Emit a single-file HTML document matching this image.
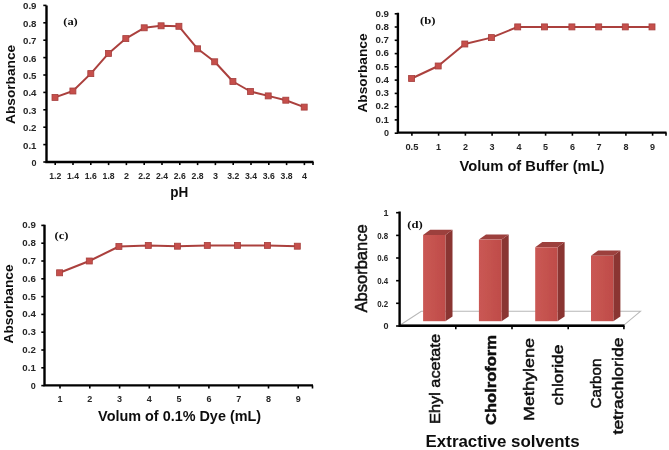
<!DOCTYPE html><html><head><meta charset="utf-8"><title>Figure</title><style>
html,body{margin:0;padding:0;background:#fff;}svg{display:block;}
text{font-family:"Liberation Sans",sans-serif;fill:#111;}
.t{font-size:9px;font-weight:bold;fill:#262626;}
.ax{font-weight:bold;fill:#111;}
.s{font-family:"Liberation Serif",serif;font-weight:bold;font-size:11px;fill:#111;}
.c{stroke:#111;stroke-width:0.5px;}
</style></head><body>
<svg width="669" height="450" viewBox="0 0 669 450">
<defs><filter id="b" x="-5%" y="-5%" width="110%" height="110%"><feGaussianBlur stdDeviation="0.55"/></filter><linearGradient id="g" x1="0" x2="1" y1="0" y2="0"><stop offset="0" stop-color="#ca5854"/><stop offset="1" stop-color="#bf4c49"/></linearGradient></defs>
<rect width="669" height="450" fill="#ffffff"/>
<g filter="url(#b)">
<path d="M46.5 5.4V162H313.5" fill="none" stroke="#000" stroke-width="2.4" stroke-linejoin="miter"/>
<path d="M43.3 162.0H46.5" stroke="#000" stroke-width="1.6"/>
<text x="36.5" y="165.9" class="t" text-anchor="end">0</text>
<path d="M43.3 144.6H46.5" stroke="#000" stroke-width="1.6"/>
<text x="36.5" y="148.5" class="t" text-anchor="end" textLength="13.5" lengthAdjust="spacingAndGlyphs">0.1</text>
<path d="M43.3 127.2H46.5" stroke="#000" stroke-width="1.6"/>
<text x="36.5" y="131.1" class="t" text-anchor="end" textLength="13.5" lengthAdjust="spacingAndGlyphs">0.2</text>
<path d="M43.3 109.8H46.5" stroke="#000" stroke-width="1.6"/>
<text x="36.5" y="113.7" class="t" text-anchor="end" textLength="13.5" lengthAdjust="spacingAndGlyphs">0.3</text>
<path d="M43.3 92.4H46.5" stroke="#000" stroke-width="1.6"/>
<text x="36.5" y="96.3" class="t" text-anchor="end" textLength="13.5" lengthAdjust="spacingAndGlyphs">0.4</text>
<path d="M43.3 75.0H46.5" stroke="#000" stroke-width="1.6"/>
<text x="36.5" y="78.9" class="t" text-anchor="end" textLength="13.5" lengthAdjust="spacingAndGlyphs">0.5</text>
<path d="M43.3 57.6H46.5" stroke="#000" stroke-width="1.6"/>
<text x="36.5" y="61.5" class="t" text-anchor="end" textLength="13.5" lengthAdjust="spacingAndGlyphs">0.6</text>
<path d="M43.3 40.2H46.5" stroke="#000" stroke-width="1.6"/>
<text x="36.5" y="44.1" class="t" text-anchor="end" textLength="13.5" lengthAdjust="spacingAndGlyphs">0.7</text>
<path d="M43.3 22.8H46.5" stroke="#000" stroke-width="1.6"/>
<text x="36.5" y="26.7" class="t" text-anchor="end" textLength="13.5" lengthAdjust="spacingAndGlyphs">0.8</text>
<path d="M43.3 5.4H46.5" stroke="#000" stroke-width="1.6"/>
<text x="36.5" y="9.3" class="t" text-anchor="end" textLength="13.5" lengthAdjust="spacingAndGlyphs">0.9</text>
<path d="M55.2 162V165.1" stroke="#000" stroke-width="1.6"/>
<text x="55.2" y="178.8" class="t" text-anchor="middle" textLength="12" lengthAdjust="spacingAndGlyphs">1.2</text>
<path d="M73.0 162V165.1" stroke="#000" stroke-width="1.6"/>
<text x="73.0" y="178.8" class="t" text-anchor="middle" textLength="12" lengthAdjust="spacingAndGlyphs">1.4</text>
<path d="M90.8 162V165.1" stroke="#000" stroke-width="1.6"/>
<text x="90.8" y="178.8" class="t" text-anchor="middle" textLength="12" lengthAdjust="spacingAndGlyphs">1.6</text>
<path d="M108.6 162V165.1" stroke="#000" stroke-width="1.6"/>
<text x="108.6" y="178.8" class="t" text-anchor="middle" textLength="12" lengthAdjust="spacingAndGlyphs">1.8</text>
<path d="M126.4 162V165.1" stroke="#000" stroke-width="1.6"/>
<text x="126.4" y="178.8" class="t" text-anchor="middle">2</text>
<path d="M144.2 162V165.1" stroke="#000" stroke-width="1.6"/>
<text x="144.2" y="178.8" class="t" text-anchor="middle" textLength="12" lengthAdjust="spacingAndGlyphs">2.2</text>
<path d="M162.0 162V165.1" stroke="#000" stroke-width="1.6"/>
<text x="162.0" y="178.8" class="t" text-anchor="middle" textLength="12" lengthAdjust="spacingAndGlyphs">2.4</text>
<path d="M179.8 162V165.1" stroke="#000" stroke-width="1.6"/>
<text x="179.8" y="178.8" class="t" text-anchor="middle" textLength="12" lengthAdjust="spacingAndGlyphs">2.6</text>
<path d="M197.6 162V165.1" stroke="#000" stroke-width="1.6"/>
<text x="197.6" y="178.8" class="t" text-anchor="middle" textLength="12" lengthAdjust="spacingAndGlyphs">2.8</text>
<path d="M215.4 162V165.1" stroke="#000" stroke-width="1.6"/>
<text x="215.4" y="178.8" class="t" text-anchor="middle">3</text>
<path d="M233.2 162V165.1" stroke="#000" stroke-width="1.6"/>
<text x="233.2" y="178.8" class="t" text-anchor="middle" textLength="12" lengthAdjust="spacingAndGlyphs">3.2</text>
<path d="M251.0 162V165.1" stroke="#000" stroke-width="1.6"/>
<text x="251.0" y="178.8" class="t" text-anchor="middle" textLength="12" lengthAdjust="spacingAndGlyphs">3.4</text>
<path d="M268.8 162V165.1" stroke="#000" stroke-width="1.6"/>
<text x="268.8" y="178.8" class="t" text-anchor="middle" textLength="12" lengthAdjust="spacingAndGlyphs">3.6</text>
<path d="M286.6 162V165.1" stroke="#000" stroke-width="1.6"/>
<text x="286.6" y="178.8" class="t" text-anchor="middle" textLength="12" lengthAdjust="spacingAndGlyphs">3.8</text>
<path d="M304.4 162V165.1" stroke="#000" stroke-width="1.6"/>
<text x="304.4" y="178.8" class="t" text-anchor="middle">4</text>
<path d="M313.0 162V165.1" stroke="#000" stroke-width="1.6"/>
<path d="M55.0 97.4 L72.9 91.0 L90.8 73.6 L108.5 53.4 L125.8 38.6 L144.2 27.8 L161.1 25.8 L178.9 26.3 L197.6 48.8 L214.7 61.8 L232.9 81.5 L250.5 91.5 L268.2 95.9 L285.8 100.2 L304.2 107.1" fill="none" stroke="#ab413e" stroke-width="2.0" stroke-linejoin="round"/>
<rect x="52.0" y="94.4" width="6" height="6" fill="#c64f4c" stroke="#a53f3c" stroke-width="0.8"/>
<rect x="69.9" y="88.0" width="6" height="6" fill="#c64f4c" stroke="#a53f3c" stroke-width="0.8"/>
<rect x="87.8" y="70.6" width="6" height="6" fill="#c64f4c" stroke="#a53f3c" stroke-width="0.8"/>
<rect x="105.5" y="50.4" width="6" height="6" fill="#c64f4c" stroke="#a53f3c" stroke-width="0.8"/>
<rect x="122.8" y="35.6" width="6" height="6" fill="#c64f4c" stroke="#a53f3c" stroke-width="0.8"/>
<rect x="141.2" y="24.8" width="6" height="6" fill="#c64f4c" stroke="#a53f3c" stroke-width="0.8"/>
<rect x="158.1" y="22.8" width="6" height="6" fill="#c64f4c" stroke="#a53f3c" stroke-width="0.8"/>
<rect x="175.9" y="23.3" width="6" height="6" fill="#c64f4c" stroke="#a53f3c" stroke-width="0.8"/>
<rect x="194.6" y="45.8" width="6" height="6" fill="#c64f4c" stroke="#a53f3c" stroke-width="0.8"/>
<rect x="211.7" y="58.8" width="6" height="6" fill="#c64f4c" stroke="#a53f3c" stroke-width="0.8"/>
<rect x="229.9" y="78.5" width="6" height="6" fill="#c64f4c" stroke="#a53f3c" stroke-width="0.8"/>
<rect x="247.5" y="88.5" width="6" height="6" fill="#c64f4c" stroke="#a53f3c" stroke-width="0.8"/>
<rect x="265.2" y="92.9" width="6" height="6" fill="#c64f4c" stroke="#a53f3c" stroke-width="0.8"/>
<rect x="282.8" y="97.2" width="6" height="6" fill="#c64f4c" stroke="#a53f3c" stroke-width="0.8"/>
<rect x="301.2" y="104.1" width="6" height="6" fill="#c64f4c" stroke="#a53f3c" stroke-width="0.8"/>
<text x="70.5" y="24.5" class="s" text-anchor="middle" textLength="14.5" lengthAdjust="spacingAndGlyphs">(a)</text>
<text x="14.6" y="84.4" class="ax" text-anchor="middle" style="font-size:13.5px;" textLength="79" lengthAdjust="spacingAndGlyphs" transform="rotate(-90 14.6 84.4)">Absorbance</text>
<text x="179.2" y="197" class="ax" text-anchor="middle" style="font-size:14px;" textLength="18" lengthAdjust="spacingAndGlyphs">pH</text>
<path d="M397.9 12.8V132.6H666.5" fill="none" stroke="#000" stroke-width="2.4" stroke-linejoin="miter"/>
<path d="M394.7 133.2H397.9" stroke="#000" stroke-width="1.6"/>
<text x="389.0" y="135.9" class="t" text-anchor="end">0</text>
<path d="M394.7 119.9H397.9" stroke="#000" stroke-width="1.6"/>
<text x="389.0" y="122.6" class="t" text-anchor="end" textLength="13.5" lengthAdjust="spacingAndGlyphs">0.1</text>
<path d="M394.7 106.7H397.9" stroke="#000" stroke-width="1.6"/>
<text x="389.0" y="109.4" class="t" text-anchor="end" textLength="13.5" lengthAdjust="spacingAndGlyphs">0.2</text>
<path d="M394.7 93.4H397.9" stroke="#000" stroke-width="1.6"/>
<text x="389.0" y="96.1" class="t" text-anchor="end" textLength="13.5" lengthAdjust="spacingAndGlyphs">0.3</text>
<path d="M394.7 80.1H397.9" stroke="#000" stroke-width="1.6"/>
<text x="389.0" y="82.8" class="t" text-anchor="end" textLength="13.5" lengthAdjust="spacingAndGlyphs">0.4</text>
<path d="M394.7 66.8H397.9" stroke="#000" stroke-width="1.6"/>
<text x="389.0" y="69.5" class="t" text-anchor="end" textLength="13.5" lengthAdjust="spacingAndGlyphs">0.5</text>
<path d="M394.7 53.6H397.9" stroke="#000" stroke-width="1.6"/>
<text x="389.0" y="56.3" class="t" text-anchor="end" textLength="13.5" lengthAdjust="spacingAndGlyphs">0.6</text>
<path d="M394.7 40.3H397.9" stroke="#000" stroke-width="1.6"/>
<text x="389.0" y="43.0" class="t" text-anchor="end" textLength="13.5" lengthAdjust="spacingAndGlyphs">0.7</text>
<path d="M394.7 27.0H397.9" stroke="#000" stroke-width="1.6"/>
<text x="389.0" y="29.7" class="t" text-anchor="end" textLength="13.5" lengthAdjust="spacingAndGlyphs">0.8</text>
<path d="M394.7 13.8H397.9" stroke="#000" stroke-width="1.6"/>
<text x="389.0" y="16.5" class="t" text-anchor="end" textLength="13.5" lengthAdjust="spacingAndGlyphs">0.9</text>
<path d="M411.9 132.6V135.7" stroke="#000" stroke-width="1.6"/>
<text x="411.9" y="149.6" class="t" text-anchor="middle" textLength="13" lengthAdjust="spacingAndGlyphs">0.5</text>
<path d="M438.6 132.6V135.7" stroke="#000" stroke-width="1.6"/>
<text x="438.6" y="149.6" class="t" text-anchor="middle">1</text>
<path d="M465.4 132.6V135.7" stroke="#000" stroke-width="1.6"/>
<text x="465.4" y="149.6" class="t" text-anchor="middle">2</text>
<path d="M492.1 132.6V135.7" stroke="#000" stroke-width="1.6"/>
<text x="492.1" y="149.6" class="t" text-anchor="middle">3</text>
<path d="M518.9 132.6V135.7" stroke="#000" stroke-width="1.6"/>
<text x="518.9" y="149.6" class="t" text-anchor="middle">4</text>
<path d="M545.6 132.6V135.7" stroke="#000" stroke-width="1.6"/>
<text x="545.6" y="149.6" class="t" text-anchor="middle">5</text>
<path d="M572.4 132.6V135.7" stroke="#000" stroke-width="1.6"/>
<text x="572.4" y="149.6" class="t" text-anchor="middle">6</text>
<path d="M599.1 132.6V135.7" stroke="#000" stroke-width="1.6"/>
<text x="599.1" y="149.6" class="t" text-anchor="middle">7</text>
<path d="M625.9 132.6V135.7" stroke="#000" stroke-width="1.6"/>
<text x="625.9" y="149.6" class="t" text-anchor="middle">8</text>
<path d="M652.6 132.6V135.7" stroke="#000" stroke-width="1.6"/>
<text x="652.6" y="149.6" class="t" text-anchor="middle">9</text>
<path d="M666.0 132.6V135.7" stroke="#000" stroke-width="1.6"/>
<path d="M411.6 78.5 L438.2 66 L464.8 44 L491.4 37.6 L517.7 26.9 L544.5 26.9 L571.9 26.9 L598.7 26.9 L625.3 26.9 L652 26.9" fill="none" stroke="#ab413e" stroke-width="2.0" stroke-linejoin="round"/>
<rect x="408.6" y="75.5" width="6" height="6" fill="#c64f4c" stroke="#a53f3c" stroke-width="0.8"/>
<rect x="435.2" y="63.0" width="6" height="6" fill="#c64f4c" stroke="#a53f3c" stroke-width="0.8"/>
<rect x="461.8" y="41.0" width="6" height="6" fill="#c64f4c" stroke="#a53f3c" stroke-width="0.8"/>
<rect x="488.4" y="34.6" width="6" height="6" fill="#c64f4c" stroke="#a53f3c" stroke-width="0.8"/>
<rect x="514.7" y="23.9" width="6" height="6" fill="#c64f4c" stroke="#a53f3c" stroke-width="0.8"/>
<rect x="541.5" y="23.9" width="6" height="6" fill="#c64f4c" stroke="#a53f3c" stroke-width="0.8"/>
<rect x="568.9" y="23.9" width="6" height="6" fill="#c64f4c" stroke="#a53f3c" stroke-width="0.8"/>
<rect x="595.7" y="23.9" width="6" height="6" fill="#c64f4c" stroke="#a53f3c" stroke-width="0.8"/>
<rect x="622.3" y="23.9" width="6" height="6" fill="#c64f4c" stroke="#a53f3c" stroke-width="0.8"/>
<rect x="649.0" y="23.9" width="6" height="6" fill="#c64f4c" stroke="#a53f3c" stroke-width="0.8"/>
<text x="427.8" y="23.5" class="s" text-anchor="middle" textLength="15.5" lengthAdjust="spacingAndGlyphs">(b)</text>
<text x="366.6" y="73" class="ax" text-anchor="middle" style="font-size:13.5px;" textLength="79" lengthAdjust="spacingAndGlyphs" transform="rotate(-90 366.6 73)">Absorbance</text>
<text x="532" y="171" class="ax" text-anchor="middle" style="font-size:14px;" textLength="145" lengthAdjust="spacingAndGlyphs">Volum of Buffer (mL)</text>
<path d="M44.5 224.7V385.4H313" fill="none" stroke="#000" stroke-width="2.4" stroke-linejoin="miter"/>
<path d="M41.3 385.6H44.5" stroke="#000" stroke-width="1.6"/>
<text x="35.8" y="388.6" class="t" text-anchor="end">0</text>
<path d="M41.3 367.8H44.5" stroke="#000" stroke-width="1.6"/>
<text x="35.8" y="370.8" class="t" text-anchor="end" textLength="13.5" lengthAdjust="spacingAndGlyphs">0.1</text>
<path d="M41.3 350.0H44.5" stroke="#000" stroke-width="1.6"/>
<text x="35.8" y="353.0" class="t" text-anchor="end" textLength="13.5" lengthAdjust="spacingAndGlyphs">0.2</text>
<path d="M41.3 332.2H44.5" stroke="#000" stroke-width="1.6"/>
<text x="35.8" y="335.2" class="t" text-anchor="end" textLength="13.5" lengthAdjust="spacingAndGlyphs">0.3</text>
<path d="M41.3 314.4H44.5" stroke="#000" stroke-width="1.6"/>
<text x="35.8" y="317.4" class="t" text-anchor="end" textLength="13.5" lengthAdjust="spacingAndGlyphs">0.4</text>
<path d="M41.3 296.6H44.5" stroke="#000" stroke-width="1.6"/>
<text x="35.8" y="299.6" class="t" text-anchor="end" textLength="13.5" lengthAdjust="spacingAndGlyphs">0.5</text>
<path d="M41.3 278.8H44.5" stroke="#000" stroke-width="1.6"/>
<text x="35.8" y="281.8" class="t" text-anchor="end" textLength="13.5" lengthAdjust="spacingAndGlyphs">0.6</text>
<path d="M41.3 261.0H44.5" stroke="#000" stroke-width="1.6"/>
<text x="35.8" y="264.0" class="t" text-anchor="end" textLength="13.5" lengthAdjust="spacingAndGlyphs">0.7</text>
<path d="M41.3 243.2H44.5" stroke="#000" stroke-width="1.6"/>
<text x="35.8" y="246.2" class="t" text-anchor="end" textLength="13.5" lengthAdjust="spacingAndGlyphs">0.8</text>
<path d="M41.3 225.4H44.5" stroke="#000" stroke-width="1.6"/>
<text x="35.8" y="228.4" class="t" text-anchor="end" textLength="13.5" lengthAdjust="spacingAndGlyphs">0.9</text>
<path d="M60.0 385.4V388.5" stroke="#000" stroke-width="1.6"/>
<text x="60.0" y="402.3" class="t" text-anchor="middle">1</text>
<path d="M89.8 385.4V388.5" stroke="#000" stroke-width="1.6"/>
<text x="89.8" y="402.3" class="t" text-anchor="middle">2</text>
<path d="M119.6 385.4V388.5" stroke="#000" stroke-width="1.6"/>
<text x="119.6" y="402.3" class="t" text-anchor="middle">3</text>
<path d="M149.3 385.4V388.5" stroke="#000" stroke-width="1.6"/>
<text x="149.3" y="402.3" class="t" text-anchor="middle">4</text>
<path d="M179.1 385.4V388.5" stroke="#000" stroke-width="1.6"/>
<text x="179.1" y="402.3" class="t" text-anchor="middle">5</text>
<path d="M208.9 385.4V388.5" stroke="#000" stroke-width="1.6"/>
<text x="208.9" y="402.3" class="t" text-anchor="middle">6</text>
<path d="M238.7 385.4V388.5" stroke="#000" stroke-width="1.6"/>
<text x="238.7" y="402.3" class="t" text-anchor="middle">7</text>
<path d="M268.5 385.4V388.5" stroke="#000" stroke-width="1.6"/>
<text x="268.5" y="402.3" class="t" text-anchor="middle">8</text>
<path d="M298.2 385.4V388.5" stroke="#000" stroke-width="1.6"/>
<text x="298.2" y="402.3" class="t" text-anchor="middle">9</text>
<path d="M312.5 385.4V388.5" stroke="#000" stroke-width="1.6"/>
<path d="M59.6 272.8 L89.3 261 L118.9 246.5 L148.3 245.4 L177.4 246.2 L207.3 245.4 L237.5 245.4 L267.4 245.4 L297.3 246.2" fill="none" stroke="#ab413e" stroke-width="2.0" stroke-linejoin="round"/>
<rect x="56.6" y="269.8" width="6" height="6" fill="#c64f4c" stroke="#a53f3c" stroke-width="0.8"/>
<rect x="86.3" y="258.0" width="6" height="6" fill="#c64f4c" stroke="#a53f3c" stroke-width="0.8"/>
<rect x="115.9" y="243.5" width="6" height="6" fill="#c64f4c" stroke="#a53f3c" stroke-width="0.8"/>
<rect x="145.3" y="242.4" width="6" height="6" fill="#c64f4c" stroke="#a53f3c" stroke-width="0.8"/>
<rect x="174.4" y="243.2" width="6" height="6" fill="#c64f4c" stroke="#a53f3c" stroke-width="0.8"/>
<rect x="204.3" y="242.4" width="6" height="6" fill="#c64f4c" stroke="#a53f3c" stroke-width="0.8"/>
<rect x="234.5" y="242.4" width="6" height="6" fill="#c64f4c" stroke="#a53f3c" stroke-width="0.8"/>
<rect x="264.4" y="242.4" width="6" height="6" fill="#c64f4c" stroke="#a53f3c" stroke-width="0.8"/>
<rect x="294.3" y="243.2" width="6" height="6" fill="#c64f4c" stroke="#a53f3c" stroke-width="0.8"/>
<text x="61.5" y="239" class="s" text-anchor="middle" textLength="14" lengthAdjust="spacingAndGlyphs">(c)</text>
<text x="12.8" y="304" class="ax" text-anchor="middle" style="font-size:13.5px;" textLength="79" lengthAdjust="spacingAndGlyphs" transform="rotate(-90 12.8 304)">Absorbance</text>
<text x="179.6" y="420.6" class="ax" text-anchor="middle" style="font-size:14px;" textLength="163" lengthAdjust="spacingAndGlyphs">Volum of 0.1% Dye (mL)</text>
<path d="M400.6 324.8L421.3 311.3H640.4L624.3 324.8Z" fill="#fff" stroke="#b8b8b8" stroke-width="1.1"/>
<path d="M445.4 235.0L452.5 229.8V316.6L445.4 321.2Z" fill="#8a3533"/>
<path d="M423.1 235.0L430.20000000000005 229.8H452.5L445.4 235.0Z" fill="#9c3f3c"/>
<rect x="423.1" y="235.0" width="22.3" height="86.2" fill="url(#g)"/>
<path d="M501.6 239.6L508.70000000000005 234.4V316.6L501.6 321.2Z" fill="#8a3533"/>
<path d="M478.9 239.6L486.0 234.4H508.70000000000005L501.6 239.6Z" fill="#9c3f3c"/>
<rect x="478.9" y="239.6" width="22.7" height="81.6" fill="url(#g)"/>
<path d="M557.5 247.3L564.6 242.10000000000002V316.6L557.5 321.2Z" fill="#8a3533"/>
<path d="M535.2 247.3L542.3000000000001 242.10000000000002H564.6L557.5 247.3Z" fill="#9c3f3c"/>
<rect x="535.2" y="247.3" width="22.3" height="73.9" fill="url(#g)"/>
<path d="M613.3 255.8L620.4 250.60000000000002V316.6L613.3 321.2Z" fill="#8a3533"/>
<path d="M591 255.8L598.1 250.60000000000002H620.4L613.3 255.8Z" fill="#9c3f3c"/>
<rect x="591" y="255.8" width="22.3" height="65.4" fill="url(#g)"/>
<path d="M399.6 211.5V325.8H624.5" fill="none" stroke="#000" stroke-width="2.4"/>
<path d="M396.1 326.0H399.6" stroke="#000" stroke-width="1.6"/>
<text x="388.6" y="329.2" class="t" text-anchor="end" style="font-size:9px;">0</text>
<path d="M396.1 303.3H399.6" stroke="#000" stroke-width="1.6"/>
<text x="388.2" y="306.5" class="t" text-anchor="end" style="font-size:9px;" textLength="11" lengthAdjust="spacingAndGlyphs">0.2</text>
<path d="M396.1 280.7H399.6" stroke="#000" stroke-width="1.6"/>
<text x="388.2" y="283.9" class="t" text-anchor="end" style="font-size:9px;" textLength="11" lengthAdjust="spacingAndGlyphs">0.4</text>
<path d="M396.1 258.0H399.6" stroke="#000" stroke-width="1.6"/>
<text x="388.2" y="261.2" class="t" text-anchor="end" style="font-size:9px;" textLength="11" lengthAdjust="spacingAndGlyphs">0.6</text>
<path d="M396.1 235.4H399.6" stroke="#000" stroke-width="1.6"/>
<text x="388.2" y="238.6" class="t" text-anchor="end" style="font-size:9px;" textLength="11" lengthAdjust="spacingAndGlyphs">0.8</text>
<path d="M396.1 212.7H399.6" stroke="#000" stroke-width="1.6"/>
<text x="388.6" y="215.89999999999998" class="t" text-anchor="end" style="font-size:9px;">1</text>
<path d="M455.8 325.8V329.3" stroke="#000" stroke-width="1.6"/>
<path d="M512.0 325.8V329.3" stroke="#000" stroke-width="1.6"/>
<path d="M568.2 325.8V329.3" stroke="#000" stroke-width="1.6"/>
<path d="M623.9 325.8V329.3" stroke="#000" stroke-width="1.6"/>
<text x="415" y="227.5" class="s" text-anchor="middle" textLength="15.5" lengthAdjust="spacingAndGlyphs">(d)</text>
<text x="367.4" y="268.4" class="c" text-anchor="middle" style="font-size:16px;" textLength="88" lengthAdjust="spacingAndGlyphs" transform="rotate(-90 367.4 268.4)">Absorbance</text>
<text x="440" y="379" class="c" text-anchor="middle" textLength="90" lengthAdjust="spacingAndGlyphs" transform="rotate(-90 440 379)" style="font-size:15px;">Ehyl acetate</text>
<text x="495.5" y="380" class="c" text-anchor="middle" textLength="90" lengthAdjust="spacingAndGlyphs" transform="rotate(-90 495.5 380)" style="font-size:15px;font-weight:bold;">Cholroform</text>
<text x="534" y="379.5" class="c" text-anchor="middle" textLength="83" lengthAdjust="spacingAndGlyphs" transform="rotate(-90 534 379.5)" style="font-size:15px;">Methylene</text>
<text x="563" y="375" class="c" text-anchor="middle" textLength="61" lengthAdjust="spacingAndGlyphs" transform="rotate(-90 563 375)" style="font-size:15px;">chloride</text>
<text x="600.5" y="383.5" class="c" text-anchor="middle" textLength="50" lengthAdjust="spacingAndGlyphs" transform="rotate(-90 600.5 383.5)" style="font-size:15px;">Carbon</text>
<text x="622.5" y="386" class="c" text-anchor="middle" textLength="97" lengthAdjust="spacingAndGlyphs" transform="rotate(-90 622.5 386)" style="font-size:15px;">tetrachloride</text>
<text x="502.6" y="447" class="ax" text-anchor="middle" style="font-size:16px;" textLength="154" lengthAdjust="spacingAndGlyphs">Extractive solvents</text>
</g></svg></body></html>
